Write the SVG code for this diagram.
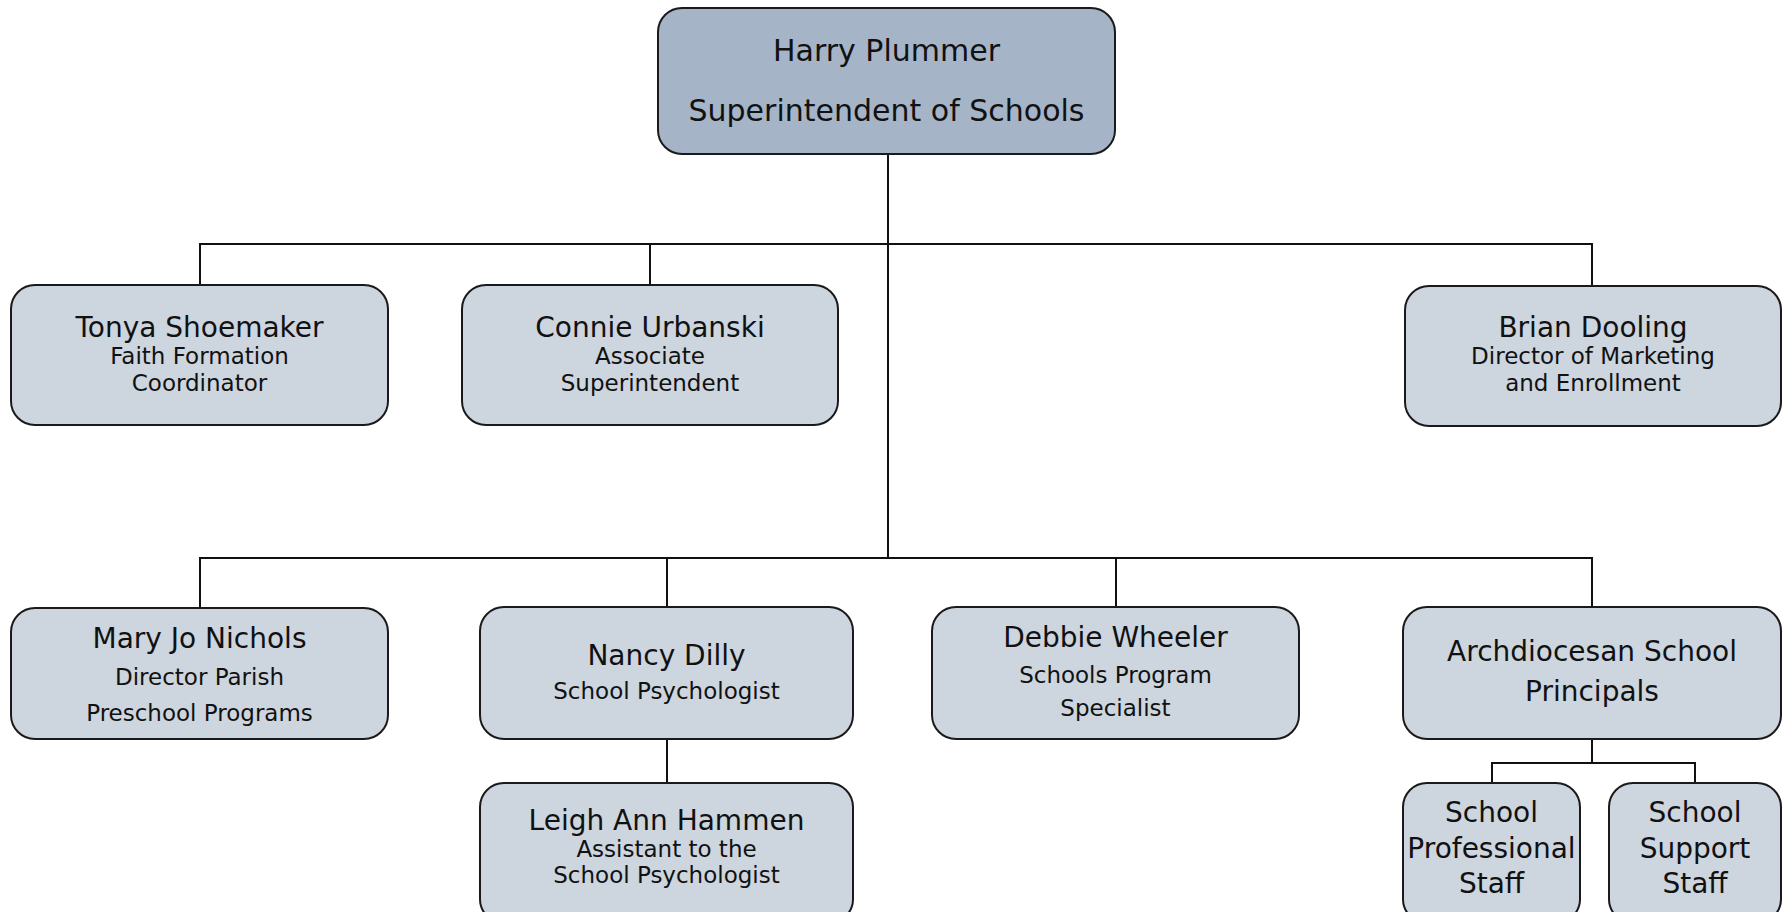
<svg xmlns="http://www.w3.org/2000/svg" width="1784" height="912" viewBox="0 0 1784 912">
<style>
.box{fill:#cdd5df;stroke:#1a1a1a;stroke-width:2}
.top{fill:#a6b4c8;stroke:#1a1a1a;stroke-width:2}
.conn{fill:none;stroke:#111;stroke-width:2}
text{font-family:"DejaVu Sans","Liberation Sans",sans-serif;fill:#111;text-anchor:middle}
.t30{font-size:30px}
.t28{font-size:28px}
.t23{font-size:23px}
</style>
<rect width="1784" height="912" fill="#ffffff"/>
<g id="connectors" class="conn">
<path d="M888 154V558"/>
<path d="M200 285V244H1592V285"/>
<path d="M650 244V285"/>
<path d="M200 607V558H1592V607"/>
<path d="M667 558V607"/>
<path d="M1116 558V607"/>
<path d="M667 739V783"/>
<path d="M1592 739V763"/>
<path d="M1492 783V763H1695V783"/>
</g>
<g id="harry">
<rect class="top" x="658" y="8" width="457" height="146" rx="24"/>
<text class="t30" x="886.5" y="61">Harry Plummer</text>
<text class="t30" x="886.5" y="121">Superintendent of Schools</text>
</g>
<g id="tonya">
<rect class="box" x="11" y="285" width="377" height="140" rx="24"/>
<text class="t28" x="199.5" y="337">Tonya Shoemaker</text>
<text class="t23" x="199.5" y="364">Faith Formation</text>
<text class="t23" x="199.5" y="391">Coordinator</text>
</g>
<g id="connie">
<rect class="box" x="462" y="285" width="376" height="140" rx="24"/>
<text class="t28" x="650" y="337">Connie Urbanski</text>
<text class="t23" x="650" y="364">Associate</text>
<text class="t23" x="650" y="391">Superintendent</text>
</g>
<g id="brian">
<rect class="box" x="1405" y="286" width="376" height="140" rx="24"/>
<text class="t28" x="1593" y="337">Brian Dooling</text>
<text class="t23" x="1593" y="364">Director of Marketing</text>
<text class="t23" x="1593" y="391">and Enrollment</text>
</g>
<g id="maryjo">
<rect class="box" x="11" y="608" width="377" height="131" rx="24"/>
<text class="t28" x="199.5" y="648">Mary Jo Nichols</text>
<text class="t23" x="199.5" y="685">Director Parish</text>
<text class="t23" x="199.5" y="721">Preschool Programs</text>
</g>
<g id="nancy">
<rect class="box" x="480" y="607" width="373" height="132" rx="24"/>
<text class="t28" x="666.5" y="665">Nancy Dilly</text>
<text class="t23" x="666.5" y="699">School Psychologist</text>
</g>
<g id="debbie">
<rect class="box" x="932" y="607" width="367" height="132" rx="24"/>
<text class="t28" x="1115.5" y="647">Debbie Wheeler</text>
<text class="t23" x="1115.5" y="683">Schools Program</text>
<text class="t23" x="1115.5" y="716">Specialist</text>
</g>
<g id="principals">
<rect class="box" x="1403" y="607" width="378" height="132" rx="24"/>
<text class="t28" x="1592" y="661">Archdiocesan School</text>
<text class="t28" x="1592" y="701">Principals</text>
</g>
<g id="leigh">
<rect class="box" x="480" y="783" width="373" height="140" rx="24"/>
<text class="t28" x="666.5" y="830">Leigh Ann Hammen</text>
<text class="t23" x="666.5" y="857">Assistant to the</text>
<text class="t23" x="666.5" y="883">School Psychologist</text>
</g>
<g id="professional">
<rect class="box" x="1403" y="783" width="177" height="140" rx="24"/>
<text class="t28" x="1491.5" y="822">School</text>
<text class="t28" x="1491.5" y="858">Professional</text>
<text class="t28" x="1491.5" y="893">Staff</text>
</g>
<g id="support">
<rect class="box" x="1609" y="783" width="172" height="140" rx="24"/>
<text class="t28" x="1695" y="822">School</text>
<text class="t28" x="1695" y="858">Support</text>
<text class="t28" x="1695" y="893">Staff</text>
</g>
</svg>
